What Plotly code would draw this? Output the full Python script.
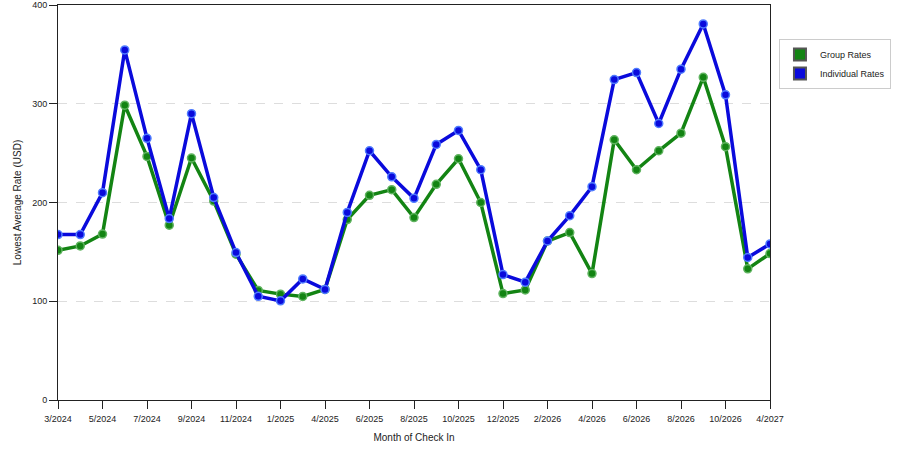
import plotly.graph_objects as go

# months with data (category axis, some months are missing)
months = ["3/2024", "4/2024", "5/2024", "6/2024", "7/2024", "8/2024", "9/2024",
          "10/2024", "11/2024", "12/2024", "1/2025", "3/2025", "4/2025", "5/2025",
          "6/2025", "7/2025", "8/2025", "9/2025", "10/2025", "11/2025", "12/2025",
          "1/2026", "2/2026", "3/2026", "4/2026", "5/2026", "6/2026", "7/2026",
          "8/2026", "9/2026", "10/2026", "11/2026", "4/2027"]

group_rates = [151.6, 156, 168, 298.5, 246.7, 177, 245, 201.5, 147.6, 111, 107.2,
               104.8, 112, 182.7, 207.3, 213, 184.7, 218.4, 244.3, 200, 107.8,
               111.5, 161, 169.5, 128, 263.5, 233.2, 252.4, 270.2, 326.8, 256.5,
               132.8, 148.3]

individual_rates = [167.5, 167.5, 210, 354.5, 265, 183.7, 290, 205, 149.3, 105,
                    100.4, 122.6, 112, 190, 252.4, 226, 204.2, 258.8, 273, 233.2,
                    127, 119.3, 161, 186.7, 216, 324.5, 331.6, 280, 335, 380.8,
                    309, 144.3, 158]

tick_labels = months[::2]

green = "#138413"
blue = "#0a0adc"

fig = go.Figure()

fig.add_trace(go.Scatter(x=months, y=group_rates, mode="lines+markers",
                         line=dict(color=green, width=3.5),
                         marker=dict(color=green, size=8, line=dict(color="#5fb35f", width=1.5)),
                         showlegend=False))
fig.add_trace(go.Scatter(x=months, y=individual_rates, mode="lines+markers",
                         line=dict(color=blue, width=3.5),
                         marker=dict(color=blue, size=8, line=dict(color="#4f7cff", width=1.5)),
                         showlegend=False))

# legend entries with square swatches
fig.add_trace(go.Scatter(x=[None], y=[None], mode="markers", name="Group Rates",
                         marker=dict(symbol="square", size=14, color=green,
                                     line=dict(color="#555555", width=0.5))))
fig.add_trace(go.Scatter(x=[None], y=[None], mode="markers", name="Individual Rates",
                         marker=dict(symbol="square", size=14, color=blue,
                                     line=dict(color="#555555", width=0.5))))

fig.update_xaxes(type="category", categoryorder="array", categoryarray=months,
                 tickvals=tick_labels, ticktext=tick_labels,
                 range=[0, len(months) - 1], automargin=False,
                 showgrid=False, showline=True, linecolor="#222222", linewidth=1,
                 mirror=True, ticks="outside", ticklen=8, tickcolor="#222222",
                 ticklabelstandoff=2,
                 tickfont=dict(size=9, color="#222222"),
                 title=dict(text="Month of Check In", font=dict(size=10, color="#222222"),
                            standoff=11))
fig.update_yaxes(range=[0, 400], tickvals=[0, 100, 200, 300, 400], automargin=False,
                 showgrid=True, gridcolor="#dddddd", griddash="dash", gridwidth=1,
                 zeroline=False, showline=True, linecolor="#222222", linewidth=1,
                 mirror=True, ticks="outside", ticklen=8, tickcolor="#222222",
                 tickfont=dict(size=9, color="#222222"),
                 title=dict(text="Lowest Average Rate (USD)", font=dict(size=10, color="#222222"),
                            standoff=8))

fig.update_layout(width=900, height=450,
                  margin=dict(l=58, r=130, t=5, b=50, autoexpand=False),
                  plot_bgcolor="white", paper_bgcolor="white",
                  font=dict(family="Liberation Sans, Arial, sans-serif", size=9, color="#222222"),
                  legend=dict(x=1.0126, y=0.914, xanchor="left", yanchor="top",
                              bordercolor="#cccccc", borderwidth=1,
                              font=dict(size=9, color="#222222"),
                              itemsizing="constant", tracegroupgap=2))

# page body has a default 8px margin, remove it so the chart sits at 0,0
fig.write_html("out.html", config={"displayModeBar": False},
               post_script="document.body.style.margin='0';")
